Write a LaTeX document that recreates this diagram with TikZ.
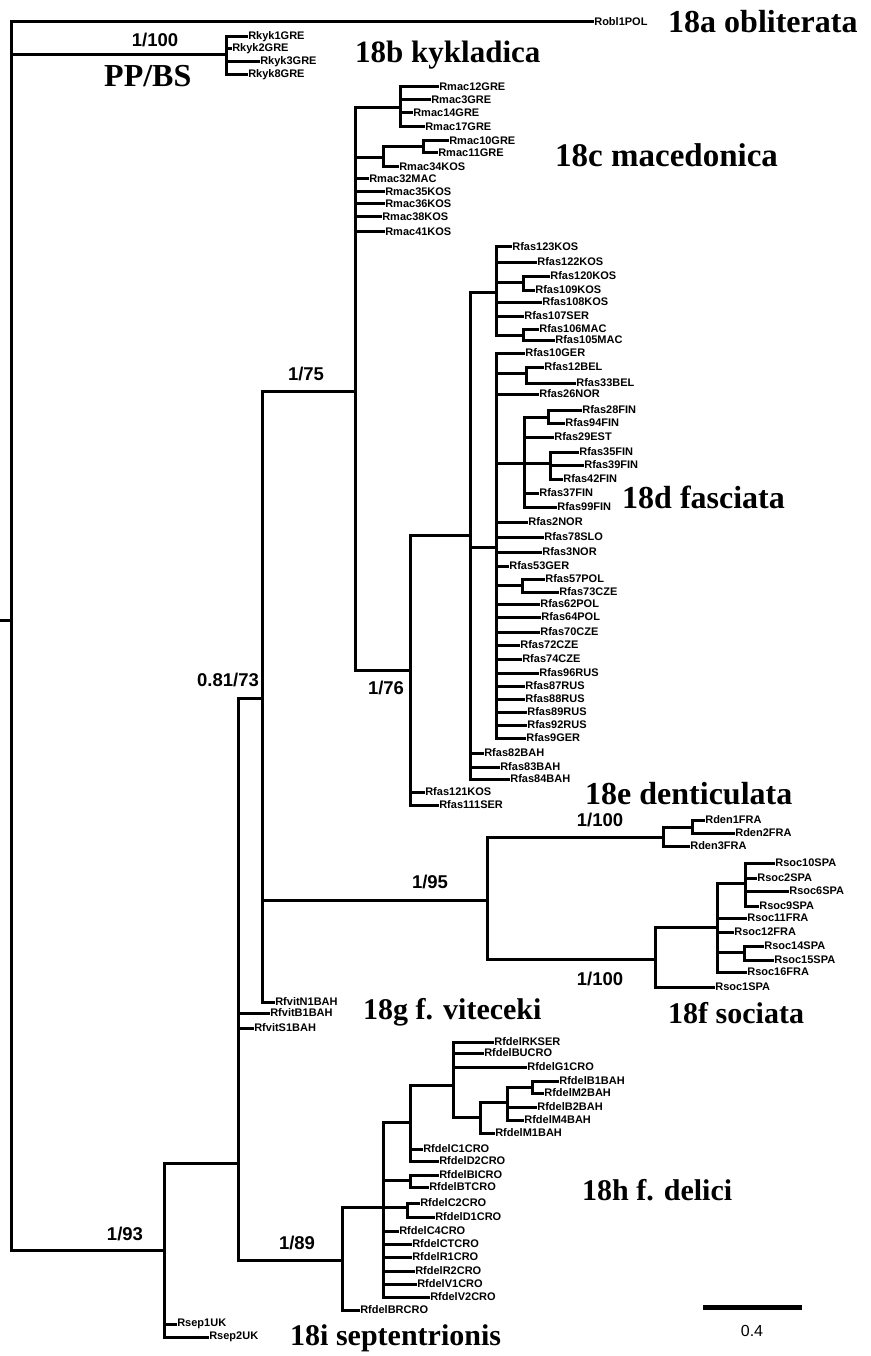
\documentclass[tikz,border=0pt]{standalone}
\usepackage{fontspec}
\setmainfont{Liberation Serif}
\setsansfont{Liberation Sans}
\usepackage{tikz}

\begin{document}
\begin{tikzpicture}[x=1pt,y=-1pt,
    br/.style={line width=3pt,line cap=rect},
    taxon/.style={anchor=west,inner sep=0.8pt,font=\sffamily\bfseries\fontsize{11}{11}\selectfont},
    supp/.style={inner sep=0pt,font=\sffamily\bfseries\fontsize{18.5}{18.5}\selectfont},
    clade/.style={anchor=west,inner sep=0pt,font=\rmfamily\bfseries\fontsize{#1}{#1}\selectfont},
    clade/.default=30]
    \useasboundingbox (0,0) rectangle (870,1356);

    % verticals of the tree nodes
    \foreach \x/\ya/\yb in {11/22/1250, 226/37/75, 164/1163/1337, 238/698/1260, 262/391/1002,
        355/108/670, 400/87/127, 383/147/167, 423/141/153,
        410/535/805, 470/292/779, 496/247/335, 523/276/290, 523/329/340,
        496/353/738, 526/367/383, 524/417/507, 548/410/423, 550/452/479, 522/579/592,
        487/837/959, 663/827/846, 692/820/833, 655/927/987, 717/883/972, 745/863/906, 744/946/960,
        342/1207/1310, 383/1122/1297, 410/1085/1161, 410/1175/1187, 407/1203/1217,
        453/1042/1117, 480/1102/1133, 507/1087/1120, 532/1081/1093}
        \draw[br] (\x,\ya) -- (\x,\yb);
    \draw[br] (0,620) -- (11,620);

    % inner branches
    \foreach \xa/\y/\xb in {11/55/226, 11/1250/164, 164/1163/238, 238/698/262, 238/1260/342,
        262/391/355, 262/900/487, 355/108/400, 355/158/383, 355/670/410, 383/147/423,
        410/535/470, 470/292/496, 470/547/496, 496/282/523, 496/335/523,
        496/373/526, 496/463/524, 524/417/548, 524/463/550, 496/585/522,
        487/837/663, 487/959/655, 663/827/692, 655/927/717, 717/883/745, 717/952/744,
        342/1207/383, 383/1122/410, 383/1180/410, 383/1207/407, 410/1085/453,
        453/1117/480, 480/1102/507, 507/1087/532}
        \draw[br] (\xa,\y) -- (\xb,\y);

    % tips
    \foreach \xa/\y/\xb/\t in {11/22/592/Robl1POL,
        226/37/246/Rkyk1GRE, 226/49/230/Rkyk2GRE, 226/62/258/Rkyk3GRE, 226/75/246/Rkyk8GRE,
        400/87/437/Rmac12GRE, 400/100/429/Rmac3GRE, 400/113/411/Rmac14GRE, 400/127/423/Rmac17GRE,
        423/141/447/Rmac10GRE, 423/153/436/Rmac11GRE, 383/167/397/Rmac34KOS,
        355/179/367/Rmac32MAC, 355/192/383/Rmac35KOS, 355/204/383/Rmac36KOS,
        355/217/380/Rmac38KOS, 355/232/383/Rmac41KOS,
        496/247/510/Rfas123KOS, 496/262/535/Rfas122KOS, 523/276/548/Rfas120KOS, 523/290/533/Rfas109KOS,
        496/302/540/Rfas108KOS, 496/316/522/Rfas107SER, 523/329/537/Rfas106MAC, 523/340/553/Rfas105MAC,
        496/353/523/Rfas10GER, 526/367/542/Rfas12BEL, 526/383/574/Rfas33BEL, 496/394/537/Rfas26NOR,
        548/410/580/Rfas28FIN, 548/423/563/Rfas94FIN, 524/437/552/Rfas29EST,
        550/452/577/Rfas35FIN, 550/465/582/Rfas39FIN, 550/479/561/Rfas42FIN,
        524/493/537/Rfas37FIN, 524/507/555/Rfas99FIN,
        496/522/526/Rfas2NOR, 496/537/542/Rfas78SLO, 496/552/540/Rfas3NOR, 496/566/507/Rfas53GER,
        522/579/543/Rfas57POL, 522/592/557/Rfas73CZE, 496/604/538/Rfas62POL, 496/617/539/Rfas64POL,
        496/632/538/Rfas70CZE, 496/645/518/Rfas72CZE, 496/659/520/Rfas74CZE, 496/673/537/Rfas96RUS,
        496/686/523/Rfas87RUS, 496/699/523/Rfas88RUS, 496/712/525/Rfas89RUS, 496/725/525/Rfas92RUS,
        496/738/524/Rfas9GER, 470/753/482/Rfas82BAH, 470/767/498/Rfas83BAH, 470/779/508/Rfas84BAH,
        410/792/423/Rfas121KOS, 410/805/437/Rfas111SER,
        692/820/703/Rden1FRA, 692/833/733/Rden2FRA, 663/846/688/Rden3FRA,
        745/863/773/Rsoc10SPA, 745/878/755/Rsoc2SPA, 745/891/787/Rsoc6SPA, 745/906/757/Rsoc9SPA,
        717/918/745/Rsoc11FRA, 717/932/732/Rsoc12FRA, 744/946/762/Rsoc14SPA, 744/960/772/Rsoc15SPA,
        717/972/745/Rsoc16FRA, 655/987/713/Rsoc1SPA,
        262/1002/273/RfvitN1BAH, 238/1013/268/RfvitB1BAH, 238/1028/252/RfvitS1BAH,
        453/1042/492/RfdelRKSER, 453/1053/482/RfdelBUCRO, 453/1067/525/RfdelG1CRO,
        532/1081/557/RfdelB1BAH, 532/1093/542/RfdelM2BAH, 507/1107/535/RfdelB2BAH, 507/1120/522/RfdelM4BAH,
        480/1133/493/RfdelM1BAH, 410/1149/421/RfdelC1CRO, 410/1161/437/RfdelD2CRO,
        410/1175/437/RfdelBICRO, 410/1187/427/RfdelBTCRO, 407/1203/418/RfdelC2CRO, 407/1217/433/RfdelD1CRO,
        383/1231/397/RfdelC4CRO, 383/1244/410/RfdelCTCRO, 383/1257/410/RfdelR1CRO, 383/1271/413/RfdelR2CRO,
        383/1284/415/RfdelV1CRO, 383/1297/428/RfdelV2CRO, 342/1310/358/RfdelBRCRO,
        164/1324/175/Rsep1UK, 164/1337/207/Rsep2UK}
        \draw[br] (\xa,\y) -- (\xb,\y) node[taxon] (\t) {\t};

    % support values
    \foreach \x/\y/\s/\n in {155/40/1\slash100/s1, 125/1234/1\slash93/s2, 228/680/0.81\slash73/s3,
        306/374/1\slash75/s4, 386/688/1\slash76/s5, 430/882/1\slash95/s6,
        600/820/1\slash100/s7, 600/979/1\slash100/s8, 297/1243/1\slash89/s9}
        \node[supp] (\n) at (\x,\y) {\s};

    % clade names
    \node[clade=32] (c18a) at (668,22) {18a obliterata};
    \node[clade=31] (c18b) at (355,55) {18b kykladica};
    \node[clade=32] (pp) at (104,76) {PP/BS};
    \node[clade=33] (c18c) at (555,155) {18c macedonica};
    \node[clade=32] (c18d) at (622,497) {18d fasciata};
    \node[clade=32] (c18e) at (585,794) {18e denticulata};
    \node[clade] (c18f) at (668,1013) {18f sociata};
    \node[clade] (c18g) at (363,1012) {18g f. viteceki};
    \node[clade] (c18h) at (582,1190) {18h f. delici};
    \node[clade] (c18i) at (290,1338) {18i septentrionis};

    % scale bar
    \draw[line width=5pt] (703,1307) -- (802,1307);
    \node[font=\sffamily\fontsize{16}{16}\selectfont] (sc) at (752,1331) {0.4};
\end{tikzpicture}
\end{document}
